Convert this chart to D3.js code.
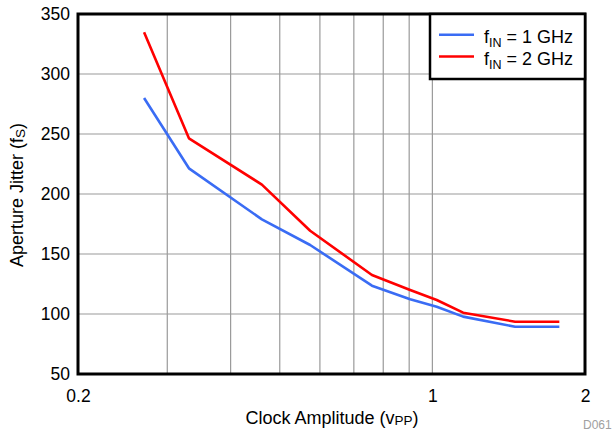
<!DOCTYPE html>
<html>
<head>
<meta charset="utf-8">
<script src="https://cdn.jsdelivr.net/npm/d3@7"></script>
<style>
html,body{margin:0;padding:0;background:#fff;}
text{font-family:"Liberation Sans",Arial,sans-serif;}
</style>
</head>
<body>
<svg id="chart" width="614" height="433"></svg>
<script>
// Data
const amplitudes = [0.27, 0.331, 0.461, 0.574, 0.76, 0.904, 1.02, 1.15, 1.456, 1.78];
const jitter1GHz = [280, 221.4, 178.9, 157.5, 123.6, 112.3, 106.1, 97.8, 89.4, 89.4];
const jitter2GHz = [334.7, 246.4, 207.8, 169.4, 132.5, 120, 111.7, 101.1, 93.6, 93.6];
const seriesNames = ["1 GHz", "2 GHz"];
const seriesColors = ["#3a6cf4", "#ff0000"];
const xTickLabels = [0.2, 1, 2];
const xGridValues = [0.3, 0.4, 0.5, 0.6, 0.7, 0.8, 0.9, 1];
const yTickValues = [50, 100, 150, 200, 250, 300, 350];

const svg = d3.select("#chart");
const L = 78, R = 585, T = 14, B = 374;

const x = d3.scaleLog().domain([0.2, 2]).range([L, R]);
const y = d3.scaleLinear().domain([50, 350]).range([B, T]);

// grid
svg.append("g").selectAll("line").data(xGridValues).join("line")
  .attr("x1", d => x(d)).attr("x2", d => x(d))
  .attr("y1", T).attr("y2", B)
  .attr("stroke", "#9a9a9a").attr("stroke-width", 1.2);
svg.append("g").selectAll("line").data(yTickValues.slice(1, -1)).join("line")
  .attr("x1", L).attr("x2", R)
  .attr("y1", d => y(d)).attr("y2", d => y(d))
  .attr("stroke", "#9a9a9a").attr("stroke-width", 1.2);

// y axis
const yAxis = d3.axisLeft(y).tickValues(yTickValues).tickSize(0).tickPadding(8);
const gy = svg.append("g").attr("transform", `translate(${L},0)`).call(yAxis);
gy.select(".domain").remove();
gy.selectAll("text").attr("font-size", 17.5).attr("fill", "#000")
  .attr("font-family", "Liberation Sans, Arial, sans-serif");

// x axis
const xAxis = d3.axisBottom(x).tickValues(xTickLabels).tickFormat(d3.format("")).tickSize(0).tickPadding(16);
const gx = svg.append("g").attr("transform", `translate(0,${B})`).call(xAxis);
gx.select(".domain").remove();
gx.selectAll("text").attr("font-size", 17.5).attr("fill", "#000")
  .attr("font-family", "Liberation Sans, Arial, sans-serif");

// lines
const line = d3.line().x((d, i) => x(amplitudes[i])).y(d => y(d));
[jitter1GHz, jitter2GHz].forEach((s, i) => {
  svg.append("path").datum(s).attr("d", line)
    .attr("fill", "none").attr("stroke", seriesColors[i])
    .attr("stroke-width", 2.6).attr("stroke-linejoin", "round");
});

// frame
svg.append("rect").attr("x", L).attr("y", T).attr("width", R - L).attr("height", B - T)
  .attr("fill", "none").attr("stroke", "#000").attr("stroke-width", 3);

// legend
const lg = svg.append("g");
lg.append("rect").attr("x", 430).attr("y", 14).attr("width", 155).attr("height", 65)
  .attr("fill", "#fff").attr("stroke", "#000").attr("stroke-width", 2.5);
seriesNames.forEach((n, i) => {
  const yy = 34.7 + i * 21.8;
  lg.append("line").attr("x1", 439).attr("x2", 474).attr("y1", yy).attr("y2", yy)
    .attr("stroke", seriesColors[i]).attr("stroke-width", 2.6);
  const t = lg.append("text").attr("x", 484).attr("y", yy + 8).attr("font-size", 18);
  t.append("tspan").text("f");
  t.append("tspan").attr("font-size", 12.5).attr("dy", 4).text("IN");
  t.append("tspan").attr("dy", -4).text(" = " + n);
});

// axis titles
const xt = svg.append("text").attr("x", 332).attr("y", 424).attr("text-anchor", "middle").attr("font-size", 18);
xt.append("tspan").text("Clock Amplitude (v");
xt.append("tspan").attr("font-size", 13.5).attr("dy", 1).text("PP");
xt.append("tspan").attr("dy", -1).text(")");

const yt = svg.append("text").attr("transform", "translate(23,195) rotate(-90)")
  .attr("text-anchor", "middle").attr("font-size", 18);
yt.append("tspan").text("Aperture Jitter (f");
yt.append("tspan").attr("font-size", 13.5).attr("dy", 2).text("S");
yt.append("tspan").attr("dy", -2).text(")");

svg.append("text").attr("x", 583).attr("y", 429).attr("font-size", 12).attr("fill", "#a0a0a0").text("D061");
</script>
</body>
</html>
